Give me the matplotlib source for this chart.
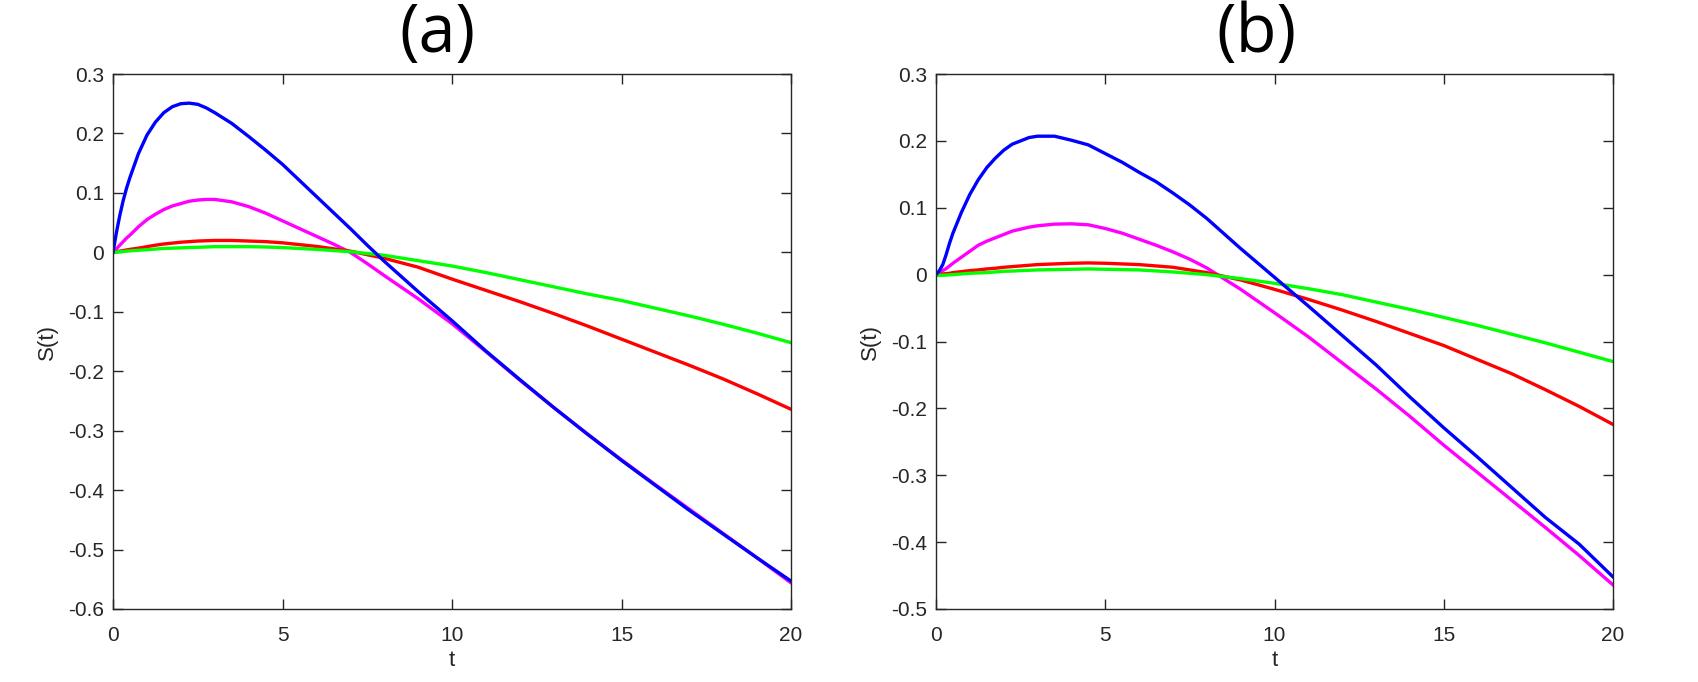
import matplotlib
matplotlib.use("Agg")
import matplotlib.pyplot as plt

plt.rcParams['font.family'] = ['Liberation Sans', 'DejaVu Sans']
plt.rcParams['axes.unicode_minus'] = False

# time grid (same for both panels)
t = [0, 0.1, 0.2, 0.3, 0.4, 0.5, 0.75, 1, 1.25, 1.5, 1.75, 2, 2.25, 2.5, 2.75, 3,
     3.5, 4, 4.5, 5, 5.5, 6, 6.5, 7, 7.5, 8,
     9, 10, 11, 12, 13, 14, 15, 16, 17, 18, 19, 20]

# panel (a)
blue_a = [0, 0.033, 0.062, 0.087, 0.108, 0.126, 0.166, 0.197, 0.219, 0.235, 0.245,
          0.250, 0.251, 0.249, 0.243, 0.235,
          0.217, 0.195, 0.172, 0.148, 0.121, 0.094, 0.067, 0.040, 0.012, -0.015,
          -0.066, -0.115, -0.166, -0.214, -0.261, -0.306, -0.350, -0.392, -0.434,
          -0.474, -0.514, -0.553]
magenta_a = [0, 0.006, 0.012, 0.018, 0.024, 0.029, 0.043, 0.055, 0.064, 0.072, 0.078,
             0.082, 0.086, 0.088, 0.089, 0.089,
             0.085, 0.077, 0.066, 0.053, 0.040, 0.027, 0.014, 0.000, -0.019, -0.039,
             -0.078, -0.120, -0.167, -0.215, -0.261, -0.306, -0.349, -0.391, -0.432,
             -0.473, -0.514, -0.556]
red_a = [0, 0.001, 0.002, 0.003, 0.004, 0.005, 0.007, 0.0095, 0.012, 0.014, 0.0155,
         0.017, 0.018, 0.019, 0.0195, 0.020,
         0.020, 0.019, 0.018, 0.016, 0.013, 0.010, 0.006, 0.002, -0.004, -0.010,
         -0.025, -0.045, -0.064, -0.083, -0.103, -0.124, -0.146, -0.168, -0.190,
         -0.213, -0.238, -0.264]
green_a = [0, 0.0005, 0.001, 0.0015, 0.002, 0.0025, 0.0035, 0.0045, 0.0055, 0.0065, 0.007,
           0.0075, 0.008, 0.0085, 0.009, 0.0095,
           0.0095, 0.0095, 0.009, 0.008, 0.0065, 0.005, 0.003, 0.001, -0.002, -0.005,
           -0.014, -0.023, -0.034, -0.046, -0.058, -0.070, -0.081, -0.094, -0.107,
           -0.121, -0.136, -0.152]

# panel (b)
blue_b = [0, 0.006, 0.015, 0.030, 0.047, 0.062, 0.093, 0.120, 0.142, 0.160, 0.174,
          0.186, 0.195, 0.200, 0.205, 0.207,
          0.207, 0.201, 0.194, 0.181, 0.168, 0.153, 0.139, 0.122, 0.104, 0.084,
          0.039, -0.004, -0.047, -0.091, -0.135, -0.183, -0.229, -0.273, -0.318,
          -0.363, -0.403, -0.452]
magenta_b = [0, 0.003, 0.006, 0.009, 0.013, 0.017, 0.026, 0.035, 0.044, 0.050, 0.055,
             0.060, 0.065, 0.068, 0.071, 0.073,
             0.0755, 0.076, 0.0745, 0.069, 0.062, 0.053, 0.044, 0.034, 0.023, 0.010,
             -0.022, -0.057, -0.093, -0.132, -0.171, -0.212, -0.255, -0.296, -0.337,
             -0.378, -0.420, -0.464]
red_b = [0, 0.0005, 0.001, 0.0015, 0.002, 0.003, 0.0045, 0.006, 0.007, 0.0085, 0.0095,
         0.011, 0.012, 0.013, 0.014, 0.015,
         0.016, 0.017, 0.0175, 0.017, 0.016, 0.015, 0.013, 0.011, 0.007, 0.003,
         -0.008, -0.022, -0.037, -0.053, -0.070, -0.088, -0.106, -0.127, -0.148,
         -0.172, -0.197, -0.224]
green_b = [-0.001, -0.001, -0.0008, -0.0006, -0.0003, 0.0, 0.001, 0.002, 0.0025, 0.003, 0.004,
           0.005, 0.0053, 0.006, 0.0065, 0.007,
           0.0075, 0.008, 0.0085, 0.008, 0.0075, 0.007, 0.0055, 0.004, 0.002, 0.000,
           -0.006, -0.013, -0.021, -0.030, -0.041, -0.052, -0.064, -0.076, -0.089,
           -0.102, -0.116, -0.130]

xticks = [0, 5, 10, 15, 20]
yticks_a = [-0.6, -0.5, -0.4, -0.3, -0.2, -0.1, 0, 0.1, 0.2, 0.3]
yticks_b = [-0.5, -0.4, -0.3, -0.2, -0.1, 0, 0.1, 0.2, 0.3]

axcol = '#262626'
lw = 2.4

fig = plt.figure(figsize=(16.98, 6.82), dpi=100)
ax1 = fig.add_axes([113/1698, 1-609/682, 678/1698, 535/682])
ax2 = fig.add_axes([936/1698, 1-609/682, 677/1698, 535/682])


def style(ax, yticks):
    ax.set_xlim(0, 20)
    ax.set_ylim(yticks[0], yticks[-1])
    ax.set_xticks(xticks)
    ax.set_xticklabels([str(v) for v in xticks])
    ax.set_yticks(yticks)
    ax.set_yticklabels(['0' if v == 0 else ('%g' % v) for v in yticks])
    ax.tick_params(direction='in', length=7, width=1, top=True, right=True,
                   colors=axcol, labelsize=15)
    ax.tick_params(axis='x', pad=12)
    ax.tick_params(axis='y', pad=6.5)
    for s in ax.spines.values():
        s.set_color(axcol)
        s.set_linewidth(1)
    ax.set_xlabel('t', fontsize=16, color=axcol, labelpad=4)
    ax.set_ylabel('S(t)', fontsize=16, color=axcol, labelpad=7)


for ax, bl, mg, rd, gr, yt in [(ax1, blue_a, magenta_a, red_a, green_a, yticks_a),
                               (ax2, blue_b, magenta_b, red_b, green_b, yticks_b)]:
    ax.plot(t, mg, color=(1, 0, 1), lw=lw)
    ax.plot(t, rd, color=(1, 0, 0), lw=lw)
    ax.plot(t, gr, color=(0, 1, 0), lw=lw)
    ax.plot(t, bl, color=(0, 0, 1), lw=lw)
    style(ax, yt)

# panel titles, kept just inside the top edge
fig.text(437/1698, 1-52/682, '(a)', fontsize=48, family='Open Sans',
         ha='center', va='baseline')
fig.text(1256/1698, 1-52/682, '(b)', fontsize=48, family='Open Sans',
         ha='center', va='baseline')

plt.savefig('out.png', dpi=100)
